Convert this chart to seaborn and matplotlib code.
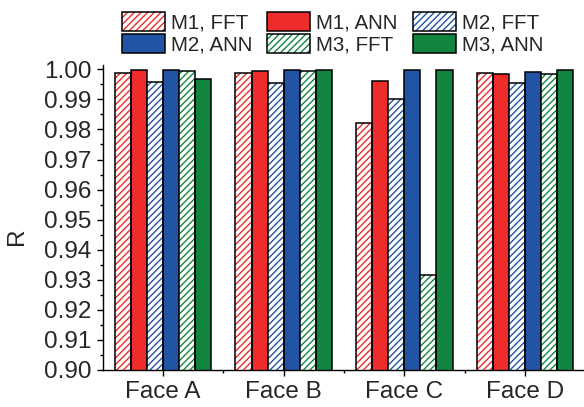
import matplotlib
matplotlib.use("Agg")
import matplotlib.pyplot as plt
from matplotlib.patches import Patch, Rectangle
from matplotlib.ticker import MultipleLocator, FixedLocator, FormatStrFormatter
import seaborn as sns
import pandas as pd

# Chart data
faces = ['Face A', 'Face B', 'Face C', 'Face D']
series = ['M1, FFT', 'M1, ANN', 'M2, FFT', 'M2, ANN', 'M3, FFT', 'M3, ANN']
m1_fft = [0.9989, 0.9989, 0.9822, 0.9989]
m1_ann = [0.9999, 0.9995, 0.9962, 0.9983]
m2_fft = [0.9958, 0.9955, 0.9900, 0.9955]
m2_ann = [0.9999, 0.9998, 0.9999, 0.9991]
m3_fft = [0.9995, 0.9995, 0.9316, 0.9983]
m3_ann = [0.9968, 0.9998, 0.9999, 0.9999]

values = [m1_fft, m1_ann, m2_fft, m2_ann, m3_fft, m3_ann]
colors = ['#EE2C2C', '#EE2C2C', '#2154A4', '#2154A4', '#11843F', '#11843F']
hatched = [True, False, True, False, True, False]

rows = []
for name, vals in zip(series, values):
    for face, v in zip(faces, vals):
        rows.append({'face': face, 'series': name, 'R': v})
df = pd.DataFrame(rows)

sns.set_style('ticks')
plt.rcParams['font.family'] = ['Liberation Sans', 'DejaVu Sans']
plt.rcParams['hatch.linewidth'] = 1.0

fig = plt.figure(figsize=(5.84, 4.07), dpi=100)
ax = fig.add_axes([0.176, 0.091, 0.826, 0.749])

sns.barplot(data=df, x='face', y='R', hue='series', hue_order=series,
            palette=colors, width=0.8, legend=False, ax=ax)

# style the bars: hatched ones get coloured hatch lines + black outline
HATCH = '/////'
handles = []
for cont, col, h in zip(ax.containers, colors, hatched):
    for bar in cont:
        if h:
            bar.set_facecolor('white')
            bar.set_hatch(HATCH)
            bar.set_edgecolor(col)
            bar.set_linewidth(0)
            ax.add_patch(Rectangle(bar.get_xy(), bar.get_width(), bar.get_height(),
                                   fill=False, edgecolor='black', linewidth=1.1))
        else:
            bar.set_facecolor(col)
            bar.set_edgecolor('black')
            bar.set_linewidth(1.1)
    if h:
        handles.append((Patch(facecolor='white', hatch=HATCH, edgecolor=col, linewidth=0),
                        Patch(fill=False, edgecolor='black', linewidth=1.1)))
    else:
        handles.append(Patch(facecolor=col, edgecolor='black', linewidth=1.1))

ax.set_ylim(0.90, 1.0014)
ax.set_xlim(-0.5, 3.5)
ax.yaxis.set_major_locator(MultipleLocator(0.01))
ax.yaxis.set_minor_locator(MultipleLocator(0.005))
ax.yaxis.set_major_formatter(FormatStrFormatter('%.2f'))
ax.xaxis.set_minor_locator(FixedLocator([0.5, 1.5, 2.5]))
ax.tick_params(axis='both', which='major', length=4.3, width=1, labelsize=17.5, pad=4, color='black')
ax.tick_params(axis='both', which='minor', length=2.4, width=1, color='black')
ax.set_xlabel('')
ax.set_ylabel('R', fontsize=17.5)
ax.yaxis.set_label_coords(-0.155, 0.44)

for side in ['top', 'right']:
    ax.spines[side].set_visible(False)
for side in ['left', 'bottom']:
    ax.spines[side].set_color('black')
    ax.spines[side].set_linewidth(1)

# row-major legend order with 3 columns
order = [0, 3, 1, 4, 2, 5]
fig.legend([handles[i] for i in order], [series[i] for i in order],
           ncol=3, loc='upper left', bbox_to_anchor=(122 / 584, 1 - 12 / 407),
           frameon=False, fontsize=14.8, handlelength=2.09, handleheight=1.05,
           handletextpad=0.3, columnspacing=0.72, labelspacing=0.08,
           borderpad=0, borderaxespad=0)

fig.savefig('out.png', dpi=100)
